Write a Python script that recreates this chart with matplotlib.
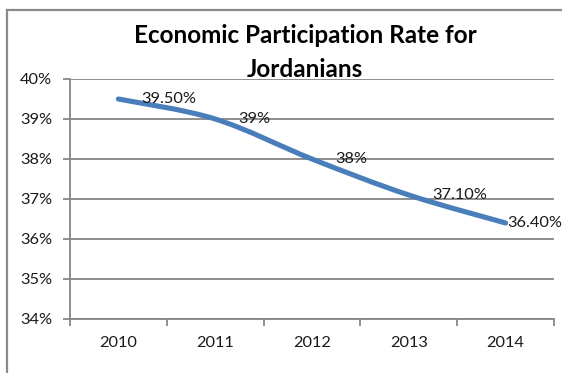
import matplotlib
matplotlib.use("Agg")
import matplotlib.pyplot as plt
from matplotlib.path import Path
from matplotlib.patches import PathPatch
from matplotlib.lines import Line2D
from matplotlib.ticker import FixedLocator, FuncFormatter

plt.rcParams['font.family'] = ['Lato', 'DejaVu Sans']

# Data
years = ["2010", "2011", "2012", "2013", "2014"]
rates = [39.5, 39.0, 38.0, 37.1, 36.4]
labels = ["39.50%", "39%", "38%", "37.10%", "36.40%"]
title_lines = ["Economic Participation Rate for", "Jordanians"]

W, H, DPI = 562, 373, 100
fig = plt.figure(figsize=(W / DPI, H / DPI), dpi=DPI)
fig.patch.set_facecolor("white")

# chart frame: left and top edges (the rest runs off the canvas)
frame_c = "#8a8a8a"
fig.lines.append(Line2D([7 / W, 7 / W], [0, 1 - 10 / H], transform=fig.transFigure,
                        color=frame_c, linewidth=1.6))
fig.lines.append(Line2D([7 / W, 1], [1 - 10 / H, 1 - 10 / H], transform=fig.transFigure,
                        color=frame_c, linewidth=1.6))

left, right, bottom, top = 70 / W, 554 / W, 1 - 319 / H, 1 - 79 / H
ax = fig.add_axes([left, bottom, right - left, top - bottom])

n = len(years)
xs = list(range(n))
ax.set_xlim(-0.5, n - 0.5)
ax.set_ylim(34, 40)

grid_c = "#868686"
for s in ("top", "right"):
    ax.spines[s].set_visible(False)
for s in ("left", "bottom"):
    ax.spines[s].set_color(grid_c)
    ax.spines[s].set_linewidth(1.3)

ax.yaxis.set_major_locator(FixedLocator(range(34, 41)))
ax.yaxis.set_major_formatter(FuncFormatter(lambda v, p: f"{int(round(v))}%"))
ax.grid(axis="y", color=grid_c, linewidth=1.3)
ax.set_axisbelow(True)

# category boundaries carry the x ticks; labels sit at category centres
ax.xaxis.set_major_locator(FixedLocator([i - 0.5 for i in range(n + 1)]))
ax.xaxis.set_major_formatter(FuncFormatter(lambda v, p: ""))
ax.xaxis.set_minor_locator(FixedLocator(xs))
ax.set_xticklabels(years, minor=True)
ax.tick_params(axis="x", which="major", direction="out", length=5, width=1.3, color=grid_c)
ax.tick_params(axis="x", which="minor", length=0, pad=12, labelsize=11.8, labelcolor="#1a1a1a")
ax.tick_params(axis="y", direction="out", length=5, width=1.3, color=grid_c, pad=8,
               labelsize=11.8, labelcolor="#1a1a1a")

# smoothed series line (Catmull-Rom segments as cubic Beziers)
pts = list(zip(xs, rates))
verts = [pts[0]]
codes = [Path.MOVETO]
for i in range(n - 1):
    p0 = pts[i - 1] if i > 0 else pts[i]
    p1 = pts[i]
    p2 = pts[i + 1]
    p3 = pts[i + 2] if i + 2 < n else pts[i + 1]
    c1 = (p1[0] + (p2[0] - p0[0]) / 6, p1[1] + (p2[1] - p0[1]) / 6)
    c2 = (p2[0] - (p3[0] - p1[0]) / 6, p2[1] - (p3[1] - p1[1]) / 6)
    verts += [c1, c2, p2]
    codes += [Path.CURVE4] * 3
ax.add_patch(PathPatch(Path(verts, codes), facecolor="none", edgecolor="#4A7EBB",
                       linewidth=3.7, capstyle="round", joinstyle="round", clip_on=False))

# data labels, to the right of each point
label_dx = [23, 23, 23, 23, 2]
for x, y, lab, dx in zip(xs, rates, labels, label_dx):
    ax.annotate(lab, (x, y), xytext=(dx * 72 / DPI, 0), textcoords="offset points",
                ha="left", va="center", fontsize=11.8, color="#1a1a1a",
                annotation_clip=False)

# two-line bold title
for line, base in zip(title_lines, [43, 77]):
    fig.text(305 / W, 1 - base / H, line, ha="center", va="baseline", fontsize=17.5,
             fontweight="bold", color="#000000")

fig.savefig("out.png", dpi=DPI)
